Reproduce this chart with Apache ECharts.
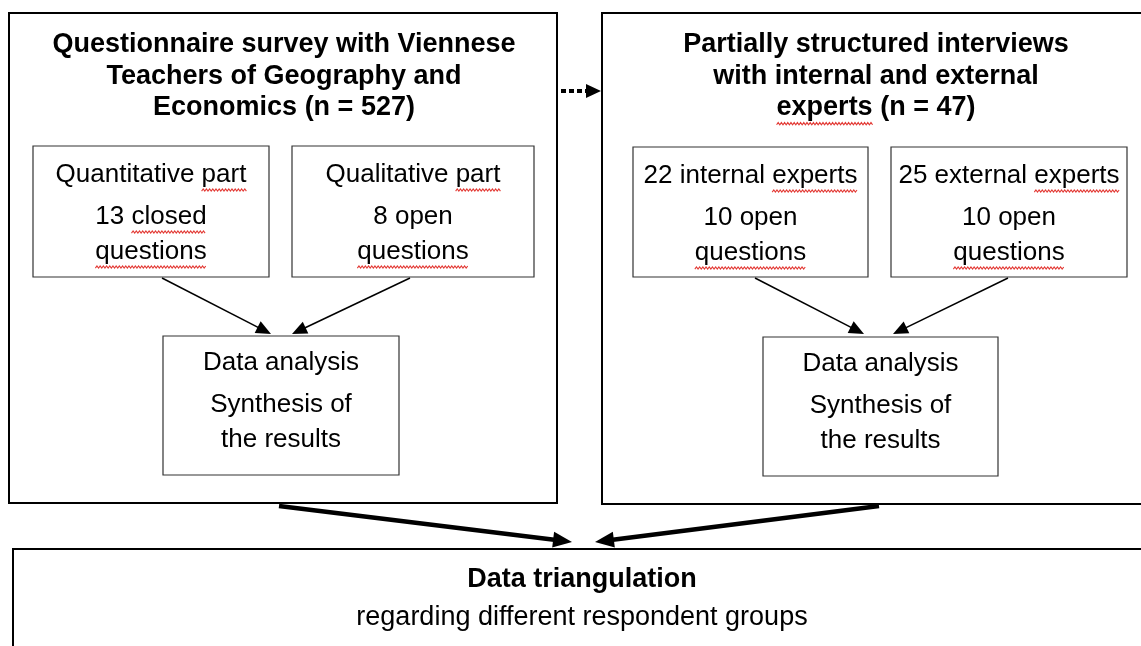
<!DOCTYPE html>
<html lang="en">
<head>
    <meta charset="UTF-8">
    <script src="https://cdn.jsdelivr.net/npm/echarts@6/dist/echarts.min.js"></script>
    <title>Research design</title>
    <style>
        html, body { margin: 0; padding: 0; background: #fff; }
        #main { width: 1141px; height: 646px; }
    </style>
</head>
<body>
    <div id="main"></div>
    <script type="text/javascript">
        // texts of the diagram
        var surveyTitle = ['Questionnaire survey with Viennese', 'Teachers of Geography and', 'Economics (n = 527)'];
        var interviewTitle = ['Partially structured interviews', 'with internal and external', 'experts (n = 47)'];
        var surveyParts = [
            ['Quantitative part', '13 closed', 'questions'],
            ['Qualitative part', '8 open', 'questions']
        ];
        var interviewParts = [
            ['22 internal experts', '10 open', 'questions'],
            ['25 external experts', '10 open', 'questions']
        ];
        var analysisLines = ['Data analysis', 'Synthesis of', 'the results'];
        var triangTitle = 'Data triangulation';
        var triangSub = 'regarding different respondent groups';
        // words the spell checker underlined in the original
        var flagged = ['part', 'closed', 'questions', 'experts'];

        var FONT = '"Liberation Sans", Arial, sans-serif';
        var ctx = document.createElement('canvas').getContext('2d');
        function textW(s, size, bold) {
            ctx.font = (bold ? 'bold ' : '') + size + 'px ' + FONT;
            return ctx.measureText(s).width;
        }

        var els = [];

        function box(x, y, w, h, lw, color) {
            els.push({
                type: 'rect',
                shape: { x: x, y: y, width: w, height: h },
                style: { fill: '#fff', stroke: color, lineWidth: lw }
            });
        }

        function squiggle(x0, x1, y) {
            var pts = [];
            for (var x = x0, k = 0; x <= x1; x += 1.6, k++) {
                pts.push([x, y + (k % 2 ? -1.1 : 1.1)]);
            }
            els.push({
                type: 'polyline',
                shape: { points: pts },
                style: { stroke: '#e33b36', lineWidth: 1.1, fill: null }
            });
        }

        function label(s, cx, cy, size, bold) {
            els.push({
                type: 'text',
                x: cx,
                y: cy,
                style: {
                    text: s,
                    fill: '#000',
                    fontSize: size,
                    fontWeight: bold ? 'bold' : 'normal',
                    fontFamily: FONT,
                    align: 'center',
                    verticalAlign: 'middle'
                }
            });
            var words = s.split(' ');
            var left = cx - textW(s, size, bold) / 2;
            words.forEach(function (wd, i) {
                if (flagged.indexOf(wd) < 0) return;
                var pre = words.slice(0, i).join(' ') + (i ? ' ' : '');
                var x0 = left + textW(pre, size, bold);
                squiggle(x0, x0 + textW(wd, size, bold), cy + size * 0.58);
            });
        }

        function arrow(x1, y1, x2, y2, lw, hl, hw, dash) {
            var dx = x2 - x1, dy = y2 - y1;
            var len = Math.sqrt(dx * dx + dy * dy);
            var ux = dx / len, uy = dy / len;
            var bx = x2 - ux * hl, by = y2 - uy * hl;
            els.push({
                type: 'line',
                shape: { x1: x1, y1: y1, x2: bx + ux, y2: by + uy },
                style: { stroke: '#000', lineWidth: lw, lineDash: dash || null, lineCap: 'butt' }
            });
            els.push({
                type: 'polygon',
                shape: { points: [[x2, y2], [bx - uy * hw / 2, by + ux * hw / 2], [bx + uy * hw / 2, by - ux * hw / 2]] },
                style: { fill: '#000' }
            });
        }

        // outer frames
        box(9, 13, 548, 490, 2, '#000');
        box(602, 13, 549, 491, 2, '#000');
        box(13, 549, 1138, 120, 2, '#000');

        surveyTitle.forEach(function (t, i) { label(t, 284, 45 + i * 31.5, 27, true); });
        interviewTitle.forEach(function (t, i) { label(t, 876, 45 + i * 31.5, 27, true); });

        // inner boxes
        var partOff = [29, 71, 106];
        var partBoxes = [[33, 146, 236, 131], [292, 146, 242, 131], [633, 147, 235, 130], [891, 147, 236, 130]];
        var partTexts = surveyParts.concat(interviewParts);
        partBoxes.forEach(function (b, i) {
            box(b[0], b[1], b[2], b[3], 1.2, '#333');
            partTexts[i].forEach(function (t, j) {
                label(t, b[0] + b[2] / 2, b[1] + partOff[j], 26, false);
            });
        });

        var anOff = [27, 69, 104];
        var anBoxes = [[163, 336, 236, 139], [763, 337, 235, 139]];
        anBoxes.forEach(function (b) {
            box(b[0], b[1], b[2], b[3], 1.2, '#333');
            analysisLines.forEach(function (t, j) {
                label(t, b[0] + b[2] / 2, b[1] + anOff[j], 26, false);
            });
        });

        label(triangTitle, 582, 580, 27, true);
        label(triangSub, 582, 618, 27, false);

        // arrows
        arrow(162, 278, 271, 334, 1.5, 15, 13);
        arrow(410, 278, 292, 334, 1.5, 15, 13);
        arrow(755, 278, 864, 334, 1.5, 15, 13);
        arrow(1008, 278, 893, 334, 1.5, 15, 13);
        arrow(279, 506, 572, 542, 4.5, 19, 16);
        arrow(879, 506, 595, 542, 4.5, 19, 16);
        arrow(561, 91, 601, 91, 4, 15, 14, [5, 3]);

        var chart = echarts.init(document.getElementById('main'));
        chart.setOption({
            backgroundColor: '#fff',
            animation: false,
            graphic: { elements: els }
        });
    </script>
</body>
</html>
